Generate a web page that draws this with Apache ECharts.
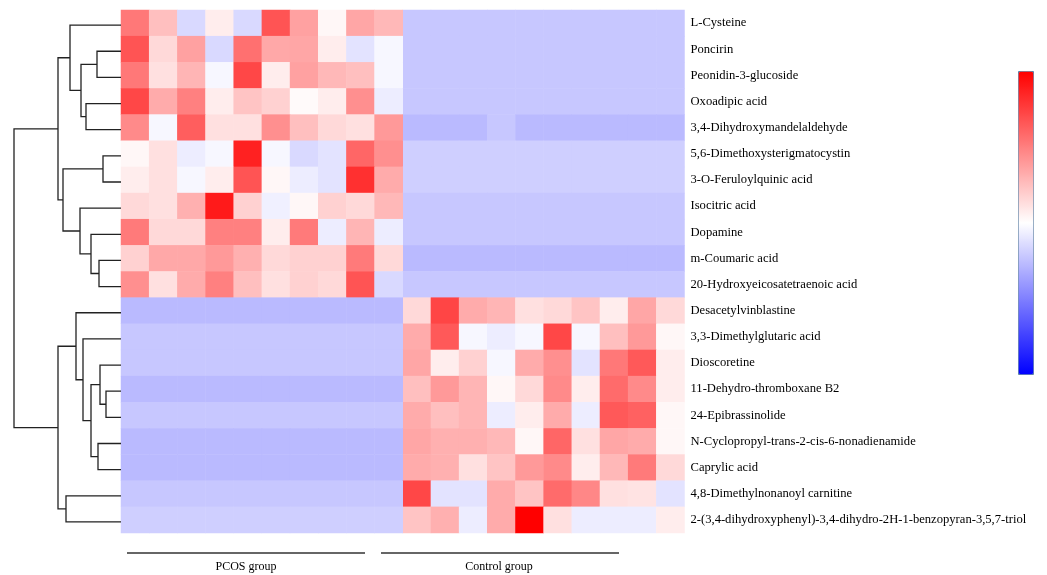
<!DOCTYPE html>
<html lang="en">
<head>
<meta charset="UTF-8">
<title>Heatmap</title>
<script src="https://cdn.jsdelivr.net/npm/echarts/dist/echarts.min.js"></script>
</head>
<body style="margin:0">
<div id="main" style="width:1047px;height:575px;"></div>
<script type="text/javascript">
// metabolites, top to bottom
var metabolites = [
    'L-Cysteine', 'Poncirin', 'Peonidin-3-glucoside', 'Oxoadipic acid',
    '3,4-Dihydroxymandelaldehyde', '5,6-Dimethoxysterigmatocystin', '3-O-Feruloylquinic acid',
    'Isocitric acid', 'Dopamine', 'm-Coumaric acid', '20-Hydroxyeicosatetraenoic acid',
    'Desacetylvinblastine', '3,3-Dimethylglutaric acid', 'Dioscoretine',
    '11-Dehydro-thromboxane B2', '24-Epibrassinolide', 'N-Cyclopropyl-trans-2-cis-6-nonadienamide',
    'Caprylic acid', '4,8-Dimethylnonanoyl carnitine',
    '2-(3,4-dihydroxyphenyl)-3,4-dihydro-2H-1-benzopyran-3,5,7-triol'
];
var groups = ['PCOS group', 'Control group'];

// scaled values, 10 samples per group
var pcosVals = [
    [0.53, 0.25, -0.15, 0.07, -0.15, 0.67, 0.37, 0.03, 0.35, 0.28],
    [0.67, 0.15, 0.37, -0.15, 0.56, 0.34, 0.35, 0.07, -0.11, -0.03],
    [0.53, 0.12, 0.29, -0.03, 0.72, 0.07, 0.37, 0.28, 0.25, -0.03],
    [0.72, 0.33, 0.5, 0.07, 0.23, 0.18, 0.02, 0.07, 0.44, -0.07],
    [0.46, -0.03, 0.63, 0.12, 0.12, 0.44, 0.25, 0.15, 0.12, 0.4],
    [0.03, 0.12, -0.07, -0.03, 0.87, -0.03, -0.15, -0.11, 0.6, 0.44],
    [0.07, 0.12, -0.03, 0.07, 0.67, 0.03, -0.07, -0.11, 0.81, 0.33],
    [0.15, 0.12, 0.31, 0.9, 0.18, -0.06, 0.03, 0.18, 0.15, 0.28],
    [0.52, 0.15, 0.15, 0.5, 0.5, 0.07, 0.52, -0.07, 0.29, -0.07],
    [0.18, 0.34, 0.34, 0.4, 0.31, 0.15, 0.18, 0.18, 0.52, 0.15],
    [0.44, 0.12, 0.33, 0.5, 0.25, 0.12, 0.18, 0.15, 0.67, -0.15],
    [-0.27, -0.27, -0.27, -0.27, -0.27, -0.27, -0.27, -0.27, -0.27, -0.27],
    [-0.22, -0.22, -0.22, -0.22, -0.22, -0.22, -0.22, -0.22, -0.22, -0.22],
    [-0.22, -0.22, -0.22, -0.22, -0.22, -0.22, -0.22, -0.22, -0.22, -0.22],
    [-0.27, -0.27, -0.27, -0.27, -0.27, -0.27, -0.27, -0.27, -0.27, -0.27],
    [-0.22, -0.22, -0.22, -0.22, -0.22, -0.22, -0.22, -0.22, -0.22, -0.22],
    [-0.27, -0.27, -0.27, -0.27, -0.27, -0.27, -0.27, -0.27, -0.27, -0.27],
    [-0.27, -0.27, -0.27, -0.27, -0.27, -0.27, -0.27, -0.27, -0.27, -0.27],
    [-0.22, -0.22, -0.22, -0.22, -0.22, -0.22, -0.22, -0.22, -0.22, -0.22],
    [-0.19, -0.19, -0.19, -0.19, -0.19, -0.19, -0.19, -0.19, -0.19, -0.19]
];
var controlVals = [
    [-0.22, -0.22, -0.22, -0.22, -0.22, -0.22, -0.22, -0.22, -0.22, -0.22],
    [-0.22, -0.22, -0.22, -0.22, -0.22, -0.22, -0.22, -0.22, -0.22, -0.22],
    [-0.22, -0.22, -0.22, -0.22, -0.22, -0.22, -0.22, -0.22, -0.22, -0.22],
    [-0.22, -0.22, -0.22, -0.22, -0.22, -0.22, -0.22, -0.22, -0.22, -0.22],
    [-0.27, -0.27, -0.27, -0.22, -0.27, -0.27, -0.27, -0.27, -0.27, -0.27],
    [-0.19, -0.19, -0.19, -0.19, -0.19, -0.19, -0.19, -0.19, -0.19, -0.19],
    [-0.19, -0.19, -0.19, -0.19, -0.19, -0.19, -0.19, -0.19, -0.19, -0.19],
    [-0.22, -0.22, -0.22, -0.22, -0.22, -0.22, -0.22, -0.22, -0.22, -0.22],
    [-0.22, -0.22, -0.22, -0.22, -0.22, -0.22, -0.22, -0.22, -0.22, -0.22],
    [-0.27, -0.27, -0.27, -0.27, -0.27, -0.27, -0.27, -0.27, -0.27, -0.27],
    [-0.22, -0.22, -0.22, -0.22, -0.22, -0.22, -0.22, -0.22, -0.22, -0.22],
    [0.15, 0.73, 0.33, 0.29, 0.12, 0.15, 0.23, 0.07, 0.35, 0.15],
    [0.33, 0.65, -0.03, -0.07, -0.03, 0.72, -0.03, 0.25, 0.4, 0.03],
    [0.35, 0.07, 0.18, -0.03, 0.33, 0.44, -0.11, 0.53, 0.65, 0.07],
    [0.25, 0.4, 0.29, 0.03, 0.15, 0.46, 0.07, 0.58, 0.46, 0.07],
    [0.33, 0.25, 0.29, -0.07, 0.07, 0.33, -0.07, 0.65, 0.62, 0.03],
    [0.35, 0.31, 0.31, 0.28, 0.03, 0.6, 0.12, 0.35, 0.33, 0.03],
    [0.33, 0.31, 0.12, 0.23, 0.4, 0.46, 0.07, 0.28, 0.52, 0.15],
    [0.72, -0.11, -0.11, 0.33, 0.23, 0.58, 0.47, 0.12, 0.11, -0.11],
    [0.23, 0.31, -0.07, 0.33, 1.0, 0.12, -0.07, -0.07, -0.07, 0.07]
];

// row clustering: [left id, right id, height]; ids >= 20 are earlier merges
var linkage = [
    [1, 2, 24], [3, 4, 35], [20, 21, 40], [0, 22, 51],
    [5, 6, 18], [9, 10, 22], [8, 25, 30], [7, 26, 41], [24, 27, 58], [23, 28, 63],
    [14, 15, 15], [13, 30, 21], [16, 17, 23], [31, 32, 30], [12, 33, 38], [11, 34, 45],
    [18, 19, 55], [35, 36, 63], [29, 37, 107]
];

var n = metabolites.length;
var samples = [];
for (var s = 0; s < 20; s++) samples.push(s < 10 ? 'P' + (s + 1) : 'C' + (s - 9));

var heatData = [];
for (var r = 0; r < n; r++) {
    for (var c = 0; c < 10; c++) {
        heatData.push([c, r, pcosVals[r][c]]);
        heatData.push([c + 10, r, controlVals[r][c]]);
    }
}

// dendrogram links: [yA, yB, hA, hB, h]
var pos = {};
for (var i = 0; i < n; i++) pos[i] = [i + 0.5, 0];
var links = [];
linkage.forEach(function (m, k) {
    var a = pos[m[0]], b = pos[m[1]];
    links.push([a[0], b[0], a[1], b[1], m[2]]);
    pos[n + k] = [(a[0] + b[0]) / 2, m[2]];
});

var serif = "'Liberation Serif', 'Times New Roman', serif";

var option = {
    animation: false,
    grid: [
        {left: 121, top: 10, width: 563.5, height: 523},
        {left: 14, top: 12, width: 107, height: 523}
    ],
    xAxis: [
        {type: 'category', data: samples, gridIndex: 0, show: false},
        {type: 'value', gridIndex: 1, min: 0, max: 107, inverse: true, show: false}
    ],
    yAxis: [
        {
            type: 'category', data: metabolites, gridIndex: 0, inverse: true, position: 'right',
            axisLine: {show: false}, axisTick: {show: false}, splitLine: {show: false},
            axisLabel: {color: '#000', fontFamily: serif, fontSize: 12.6, margin: 6, padding: [5, 0, 0, 0]}
        },
        {type: 'value', gridIndex: 1, min: 0, max: n, inverse: true, show: false}
    ],
    visualMap: {
        type: 'continuous',
        min: -1,
        max: 1,
        seriesIndex: 0,
        left: 1018,
        top: 71,
        itemWidth: 15,
        itemHeight: 303,
        padding: 0,
        borderWidth: 1,
        borderColor: '#5a7fa6',
        calculable: false,
        hoverLink: false,
        inRange: {color: ['#0000ff', '#ffffff', '#ff0000']}
    },
    series: [
        {
            type: 'heatmap',
            xAxisIndex: 0,
            yAxisIndex: 0,
            data: heatData,
            emphasis: {disabled: true}
        },
        {
            type: 'custom',
            xAxisIndex: 1,
            yAxisIndex: 1,
            data: links,
            encode: {x: [2, 3, 4], y: [0, 1]},
            silent: true,
            renderItem: function (params, api) {
                var p1 = api.coord([api.value(2), api.value(0)]);
                var p2 = api.coord([api.value(4), api.value(0)]);
                var p3 = api.coord([api.value(4), api.value(1)]);
                var p4 = api.coord([api.value(3), api.value(1)]);
                return {
                    type: 'polyline',
                    shape: {points: [p1, p2, p3, p4]},
                    style: {stroke: '#222', lineWidth: 1.3, fill: null}
                };
            }
        }
    ],
    graphic: [
        {type: 'line', shape: {x1: 127, y1: 553, x2: 365, y2: 553}, style: {stroke: '#333', lineWidth: 1.5}},
        {type: 'line', shape: {x1: 381, y1: 553, x2: 619, y2: 553}, style: {stroke: '#333', lineWidth: 1.5}},
        {type: 'text', x: 246, y: 567, style: {text: groups[0], fill: '#000', font: '12px ' + serif, textAlign: 'center', textVerticalAlign: 'middle'}},
        {type: 'text', x: 499, y: 567, style: {text: groups[1], fill: '#000', font: '12px ' + serif, textAlign: 'center', textVerticalAlign: 'middle'}}
    ]
};

var myChart = echarts.init(document.getElementById('main'));
myChart.setOption(option);
</script>
</body>
</html>
